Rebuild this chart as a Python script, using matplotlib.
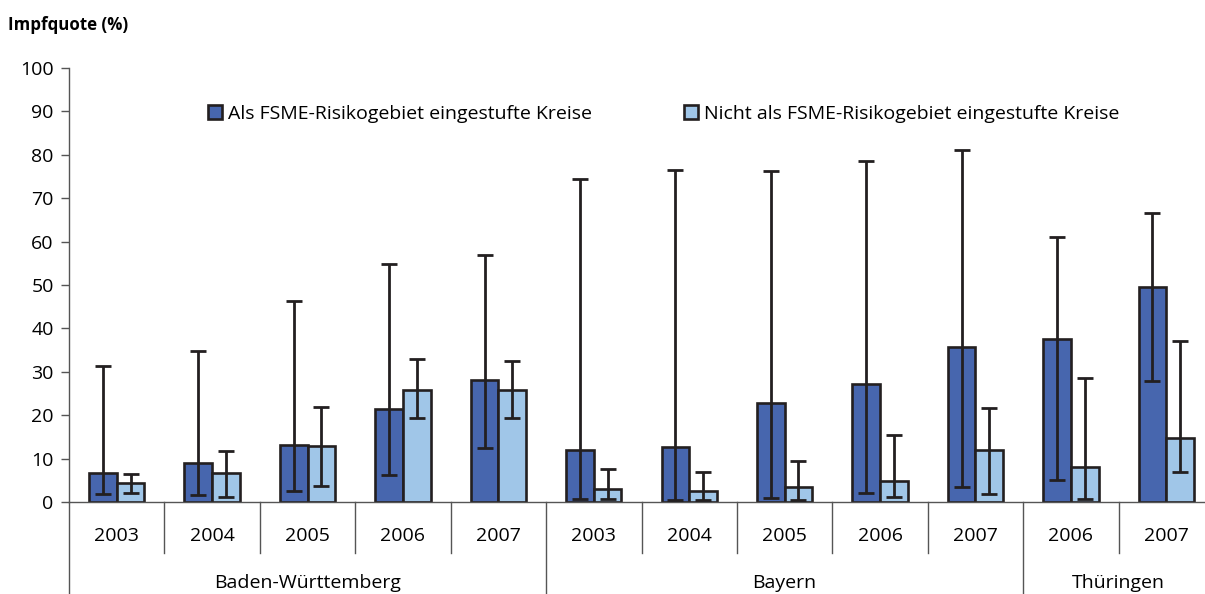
#!/usr/bin/env python3
"""Impfquote FSME: Risikogebiet vs. Nicht-Risikogebiet, nach Land und Jahr."""

import matplotlib

matplotlib.use("Agg")
import matplotlib.pyplot as plt
import matplotlib.transforms as mtransforms
import numpy as np

# --- data -----------------------------------------------------------------
years = ["2003", "2004", "2005", "2006", "2007",
         "2003", "2004", "2005", "2006", "2007",
         "2006", "2007"]
states = ["Baden-Württemberg", "Bayern", "Thüringen"]
state_sizes = [5, 5, 2]

risk_val = [6.6, 9.1, 13.1, 21.4, 28.2, 12.0, 12.7, 22.9, 27.3, 35.6, 37.6, 49.5]
risk_low = [1.8, 1.5, 2.5, 6.2, 12.4, 0.8, 0.5, 1.0, 2.0, 3.4, 5.0, 27.9]
risk_high = [31.3, 34.7, 46.3, 54.8, 56.8, 74.4, 76.5, 76.3, 78.6, 81.1, 61.1, 66.7]

non_val = [4.4, 6.6, 13.0, 25.9, 25.9, 3.0, 2.6, 3.5, 4.8, 11.9, 8.1, 14.7]
non_low = [2.1, 1.2, 3.8, 19.3, 19.3, 0.6, 0.5, 0.5, 1.2, 1.8, 0.7, 6.9]
non_high = [6.4, 11.8, 22.0, 32.9, 32.6, 7.7, 6.9, 9.4, 15.4, 21.7, 28.5, 37.0]

labels = ["Als FSME-Risikogebiet eingestufte Kreise",
          "Nicht als FSME-Risikogebiet eingestufte Kreise"]

# --- style ----------------------------------------------------------------
plt.rcParams.update({
    "font.family": ["Open Sans", "DejaVu Sans"],
    "font.size": 14,
})
DARK = "#4766ae"
LIGHT = "#a0c6e8"
EDGE = "#231f20"
GRID = "#555555"
FS = 14

W, H = 1205, 594
fig = plt.figure(figsize=(W / 100, H / 100), dpi=100)
left, right = 69 / W, 1214 / W
bottom, top = 1 - 502 / H, 1 - 68 / H
ax = fig.add_axes([left, bottom, right - left, top - bottom])

x = np.arange(len(years))
width = 0.29
series = [
    (risk_val, risk_low, risk_high, DARK, labels[0], -width / 2),
    (non_val, non_low, non_high, LIGHT, labels[1], width / 2),
]
for vals, lo, hi, color, label, off in series:
    vals = np.array(vals)
    yerr = [vals - np.array(lo), np.array(hi) - vals]
    ax.bar(x + off, vals, width, color=color, edgecolor=EDGE,
           linewidth=1.9, label=label, zorder=2)
    ax.errorbar(x + off, vals, yerr=yerr, fmt="none", ecolor=EDGE,
                elinewidth=2.0, capsize=5.8, capthick=2.0, zorder=3)

ax.set_xlim(-0.5, len(years) - 0.5)
ax.set_ylim(0, 100)
ax.set_yticks(np.arange(0, 101, 10))
ax.set_xticks([])
for s in ("top", "right"):
    ax.spines[s].set_visible(False)
for s in ("left", "bottom"):
    ax.spines[s].set_color(GRID)
    ax.spines[s].set_linewidth(1.0)
ax.tick_params(axis="y", direction="out", length=6, width=1.0,
               color=GRID, labelsize=FS, pad=5)

# category axis below the plot
trans = mtransforms.blended_transform_factory(ax.transData, fig.transFigure)
y_year_end = 1 - 553 / H
bounds = np.arange(len(years) + 1) - 0.5
group_edges = np.concatenate([[0], np.cumsum(state_sizes)])
for b in bounds:
    is_group = int(round(b + 0.5)) in group_edges
    ax.plot([b, b], [bottom, 0 if is_group else y_year_end],
            transform=trans, color=GRID, lw=1.0, clip_on=False)
for i, yr in enumerate(years):
    ax.text(i, 1 - 536 / H, yr, transform=trans, ha="center", va="center",
            fontsize=FS)
for k, st in enumerate(states):
    c = (group_edges[k] + group_edges[k + 1] - 1) / 2
    ax.text(c, 1 - 583 / H, st, transform=trans, ha="center", va="center",
            fontsize=FS)

ax.legend(loc="upper left", bbox_to_anchor=(200 / W, 1 - 97 / H),
          bbox_transform=fig.transFigure, ncol=2, frameon=False,
          fontsize=FS, handlelength=0.75, handleheight=0.75,
          handletextpad=0.3, columnspacing=4.7, borderaxespad=0)

fig.text(8 / W, 1 - 25 / H, "Impfquote (%)", fontweight="bold",
         fontsize=12.2, ha="left", va="center")

fig.savefig("out.png", dpi=100)
